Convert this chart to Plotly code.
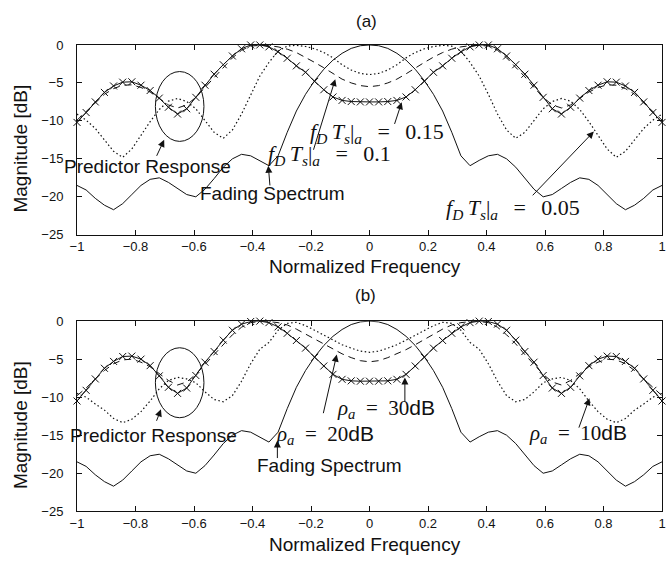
import numpy as np
import plotly.graph_objects as go

# Normalized frequency grid (65 samples, step 1/32)
freq = np.linspace(-1.0, 1.0, 65)

# Fading spectrum [dB] (same in both panels)
fading = [-18.5, -19.1, -20.2, -21.1, -21.7, -20.9, -19.7, -18.5, -17.7, -17.5, -18.1, -18.9, -19.7,
          -20.0, -19.0, -17.6, -16.1, -15.0, -14.4, -14.6, -15.2, -15.9, -14.6, -11.5, -8.7, -6.5,
          -4.7, -3.2, -2.0, -1.1, -0.45, -0.1,
          0.0,
          -0.1, -0.45, -1.1, -2.0, -3.2, -4.7, -6.5, -8.7, -11.5, -14.6, -15.9, -15.2, -14.6, -14.4,
          -15.0, -16.1, -17.6, -19.0, -20.0, -19.7, -18.9, -18.1, -17.5, -17.7, -18.5, -19.7, -20.9,
          -21.7, -21.1, -20.2, -19.1, -18.5]

# (a) predictor responses for different normalized Doppler rates
resp_fd015 = [-10.2, -8.9, -7.5, -6.25, -5.4, -4.9, -4.85, -5.3, -6.0, -7.0, -8.2, -9.1, -8.4,
              -6.9, -5.3, -3.85, -2.6, -1.45, -0.5, 0.0, 0.0, -0.25, -0.9, -1.75, -2.75, -3.6,
              -4.8, -5.9, -6.85, -7.3, -7.45, -7.5,
              -7.5,
              -7.5, -7.45, -7.3, -6.85, -5.9, -4.8, -3.6, -2.75, -1.75, -0.9, -0.25, 0.0, 0.0,
              -0.5, -1.45, -2.6, -3.85, -5.3, -6.9, -8.4, -9.1, -8.2, -7.0, -6.0, -5.3, -4.85,
              -4.9, -5.4, -6.25, -7.5, -8.9, -10.2]
resp_fd010 = [-9.9, -8.8, -7.6, -6.5, -5.75, -5.3, -5.25, -5.6, -6.2, -7.1, -7.9, -8.3, -7.9,
              -6.9, -5.6, -4.2, -2.9, -1.7, -0.7, -0.15, -0.05, -0.1, -0.25, -0.55, -1.0, -1.6,
              -2.3, -3.0, -3.8, -4.5, -5.0, -5.35,
              -5.5,
              -5.35, -5.0, -4.5, -3.8, -3.0, -2.3, -1.6, -1.0, -0.55, -0.25, -0.1, -0.05, -0.15,
              -0.7, -1.7, -2.9, -4.2, -5.6, -6.9, -7.9, -8.3, -7.9, -7.1, -6.2, -5.6, -5.25,
              -5.3, -5.75, -6.5, -7.6, -8.8, -9.9]
resp_fd005 = [-9.1, -9.9, -11.0, -12.5, -14.0, -14.8, -13.7, -11.9, -10.1, -8.5, -7.4, -7.05, -7.45,
              -8.4, -9.9, -11.5, -12.3, -11.2, -9.1, -6.5, -4.1, -2.3, -0.8, -0.15, -0.05, -0.2,
              -0.5, -1.0, -1.7, -2.6, -3.3, -3.75,
              -3.9,
              -3.75, -3.3, -2.6, -1.7, -1.0, -0.5, -0.2, -0.05, -0.15, -0.8, -2.3, -4.1, -6.5,
              -9.1, -11.2, -12.3, -11.5, -9.9, -8.4, -7.45, -7.05, -7.4, -8.5, -10.1, -11.9,
              -13.7, -14.8, -14.0, -12.5, -11.0, -9.9, -9.1]

# (b) predictor responses for different SNRs
resp_snr30 = [-10.5, -9.1, -7.6, -6.2, -5.3, -4.65, -4.6, -5.0, -5.85, -7.2, -8.7, -9.5, -8.8,
              -7.15, -5.4, -4.0, -2.5, -1.2, -0.4, -0.05, 0.0, -0.2, -0.75, -1.6, -2.55, -3.55,
              -4.75, -5.9, -7.0, -7.65, -7.85, -7.9,
              -7.9,
              -7.9, -7.85, -7.65, -7.0, -5.9, -4.75, -3.55, -2.55, -1.6, -0.75, -0.2, 0.0, -0.05,
              -0.4, -1.2, -2.5, -4.0, -5.4, -7.15, -8.8, -9.5, -8.7, -7.2, -5.85, -5.0, -4.6,
              -4.65, -5.3, -6.2, -7.6, -9.1, -10.5]
resp_snr20 = [-9.8, -8.8, -7.6, -6.5, -5.6, -5.1, -5.0, -5.4, -6.0, -6.9, -7.8, -8.4, -8.0,
              -7.0, -5.7, -4.4, -3.0, -1.8, -0.8, -0.2, -0.05, -0.05, -0.2, -0.5, -1.05, -1.7,
              -2.4, -3.1, -3.75, -4.3, -4.8, -5.2,
              -5.35,
              -5.2, -4.8, -4.3, -3.75, -3.1, -2.4, -1.7, -1.05, -0.5, -0.2, -0.05, -0.05, -0.2,
              -0.8, -1.8, -3.0, -4.4, -5.7, -7.0, -8.0, -8.4, -7.8, -6.9, -6.0, -5.4, -5.0,
              -5.1, -5.6, -6.5, -7.6, -8.8, -9.8]
resp_snr10 = [-9.5, -10.0, -10.9, -11.7, -12.8, -13.35, -12.9, -11.9, -10.5, -8.9, -7.8, -7.4, -7.6,
              -8.1, -9.3, -10.3, -10.6, -9.8, -7.9, -5.6, -3.7, -2.8, -1.2, -0.3, -0.15, -0.6,
              -1.2, -1.85, -2.5, -3.1, -3.55, -3.95,
              -4.1,
              -3.95, -3.55, -3.1, -2.5, -1.85, -1.2, -0.6, -0.15, -0.3, -1.2, -2.8, -3.7, -5.6,
              -7.9, -9.8, -10.6, -10.3, -9.3, -8.1, -7.6, -7.4, -7.8, -8.9, -10.5, -11.9, -12.9,
              -13.35, -12.8, -11.7, -10.9, -10.0, -9.5]

for series in (fading, resp_fd015, resp_fd010, resp_fd005, resp_snr30, resp_snr20, resp_snr10):
    assert len(series) == len(freq)

INK = "#111111"
SANS = "Liberation Sans"
SERIF = "Liberation Serif"

fig = go.Figure()


def add_panel(xa, ya, crossed, dashed, dotted):
    common = dict(x=freq, xaxis=xa, yaxis=ya, showlegend=False, hoverinfo="skip")
    fig.add_trace(go.Scatter(y=fading, mode="lines", line=dict(color=INK, width=1), **common))
    fig.add_trace(go.Scatter(y=dotted, mode="lines",
                             line=dict(color=INK, width=1.2, dash="1.5px,2.5px"), **common))
    fig.add_trace(go.Scatter(y=dashed, mode="lines",
                             line=dict(color=INK, width=1, dash="7px,5px"), **common))
    fig.add_trace(go.Scatter(y=crossed, mode="lines+markers", cliponaxis=False,
                             line=dict(color=INK, width=1),
                             marker=dict(symbol="x-thin", size=7, color=INK,
                                         line=dict(width=1, color=INK)), **common))


add_panel("x", "y", resp_fd015, resp_fd010, resp_fd005)
add_panel("x2", "y2", resp_snr30, resp_snr20, resp_snr10)

xaxis_style = dict(range=[-1, 1], tick0=-1, dtick=0.2, ticks="inside", ticklen=5, tickwidth=1,
                   tickcolor=INK, showline=True, linecolor=INK, linewidth=1, mirror="ticks",
                   showgrid=False, zeroline=False, tickfont=dict(family=SANS, size=13, color=INK),
                   ticklabeloverflow="allow", domain=[0, 1])
yaxis_style = dict(range=[-25, 0], tick0=0, dtick=5, ticks="inside", ticklen=5, tickwidth=1,
                   tickcolor=INK, showline=True, linecolor=INK, linewidth=1, mirror="ticks",
                   showgrid=False, zeroline=False, tickfont=dict(family=SANS, size=13, color=INK),
                   ticklabelstandoff=10)

fig.update_layout(
    width=666, height=566,
    margin=dict(l=77, r=0, t=0, b=0),
    paper_bgcolor="white", plot_bgcolor="white",
    font=dict(family=SANS, size=19, color=INK),
    showlegend=False,
    xaxis=dict(anchor="y", **xaxis_style),
    yaxis=dict(anchor="x", domain=[0.5866, 0.9311], **yaxis_style),
    xaxis2=dict(anchor="y2", **xaxis_style),
    yaxis2=dict(anchor="x2", domain=[0.0848, 0.4299], **yaxis_style),
)

# Ellipses around the predictor-response region
for xr, yr in (("x", "y"), ("x2", "y2")):
    fig.add_shape(type="circle", xref=xr, yref=yr, x0=-0.732, x1=-0.566, y0=-12.7, y1=-3.5,
                  line=dict(color=INK, width=1))

annotations = []


def label(text, x, y, xr, yr, family=SANS, size=19):
    annotations.append(dict(text=text, x=x, y=y, xref=xr, yref=yr, showarrow=False,
                            xanchor="center", yanchor="middle",
                            font=dict(family=family, size=size, color=INK)))


def arrow(tail, head, xr, yr):
    annotations.append(dict(text="", x=head[0], y=head[1], ax=tail[0], ay=tail[1],
                            xref=xr, yref=yr, axref=xr, ayref=yr, showarrow=True,
                            arrowhead=2, arrowsize=1.4, arrowwidth=1, arrowcolor=INK,
                            standoff=0, startstandoff=0))


def fdts(value):
    return ("<i>f</i><sub><i>D</i></sub>\u2009<i>T</i><sub><i>s</i></sub>|<sub><i>a</i></sub>"
            "\u2009\u2002=\u2002\u2009" + value)


def rho(value):
    return ("<i>ρ</i><sub><i>a</i></sub>\u2002=\u2002" + value +
            "<span style='font-family:Liberation Sans'>dB</span>")


# Panel (a)
label("Predictor Response", -0.758, -16.0, "x", "y")
label("Fading Spectrum", -0.332, -19.6, "x", "y")
label(fdts("0.15"), 0.024, -11.55, "x", "y", SERIF, 22)
label(fdts("0.1"), -0.137, -14.5, "x", "y", SERIF, 22)
label(fdts("0.05"), 0.49, -21.6, "x", "y", SERIF, 22)
arrow((-0.73, -14.8), (-0.702, -12.5), "x", "y")
arrow((-0.34, -18.7), (-0.346, -15.9), "x", "y")
arrow((-0.193, -14.0), (-0.117, -4.5), "x", "y")
arrow((0.084, -10.6), (0.11, -7.56), "x", "y")
arrow((0.553, -20.0), (0.767, -11.4), "x", "y")

# Panel (b)
label("Predictor Response", -0.738, -15.0, "x2", "y2")
label("Fading Spectrum", -0.137, -19.0, "x2", "y2")
label(rho("20"), -0.151, -15.0, "x2", "y2", SERIF, 21)
label(rho("30"), 0.058, -11.6, "x2", "y2", SERIF, 21)
label(rho("10"), 0.712, -14.85, "x2", "y2", SERIF, 21)
arrow((-0.73, -13.3), (-0.713, -11.6), "x2", "y2")
arrow((-0.315, -18.2), (-0.315, -15.7), "x2", "y2")
arrow((-0.159, -12.3), (-0.112, -4.4), "x2", "y2")
arrow((0.121, -10.8), (0.121, -7.4), "x2", "y2")
arrow((0.714, -14.2), (0.752, -10.15), "x2", "y2")

# Panel titles and axis titles
label("(a)", 0.4954, 0.9735, "paper", "paper", SANS, 17)
label("(b)", 0.494, 0.4758, "paper", "paper", SANS, 17)
label("Normalized Frequency", 0.4918, 0.5283, "paper", "paper")
label("Normalized Frequency", 0.4918, 0.0253, "paper", "paper")
for yc in (0.7438, 0.2420):
    annotations.append(dict(text="Magnitude [dB]", x=-0.0968, y=yc, xref="paper", yref="paper",
                            showarrow=False, textangle=-90, xanchor="center", yanchor="middle",
                            font=dict(family=SANS, size=19, color=INK)))

fig.update_layout(annotations=annotations)

fig.write_html("out.html")
